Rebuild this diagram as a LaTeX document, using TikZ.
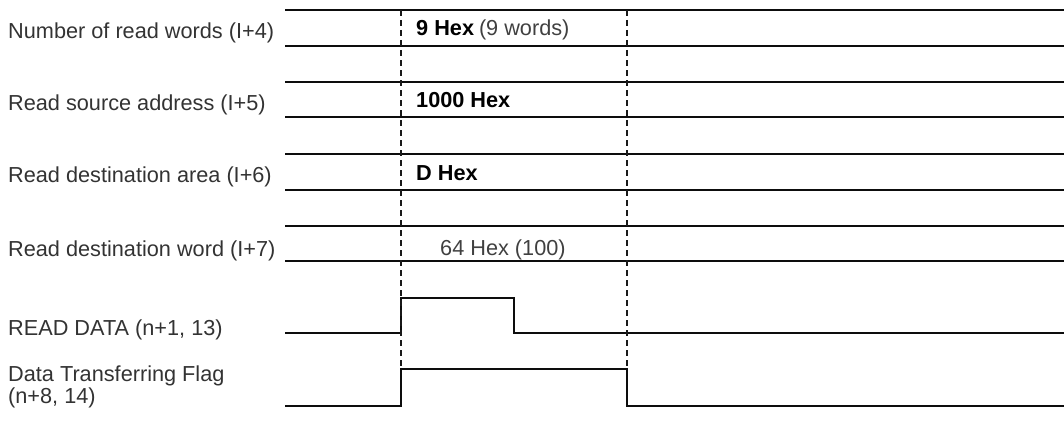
\documentclass[tikz,border=0pt]{standalone}
\usepackage{fontspec}
\setmainfont{Liberation Sans}
\usetikzlibrary{positioning, calc}

\begin{document}
\begin{tikzpicture}[
  x=1pt, y=-1pt,
  % --- labels ---
  sigbase/.style={anchor=base west, inner sep=0pt, align=left,
    font=\fontsize{21.7}{20}\selectfont},
  siglbl/.style={sigbase, text=black!80},
  vallbl/.style={sigbase, text=black, font=\fontsize{21.7}{20}\selectfont\bfseries},
  notelbl/.style={sigbase, text=black!75},
  % --- lines ---
  wave/.style={line width=1.4pt, draw=black!95},
  guide/.style={line width=1.1pt, dash pattern=on 6pt off 4pt, draw=black!90},
]
\useasboundingbox (0,0) rectangle (1064,428);

% ===================== TIME MARKS =====================

\coordinate (t0) at (285,0);
\coordinate (t1) at (401,0);
\coordinate (t2) at (514,0);
\coordinate (t3) at (627,0);
\coordinate (tend) at (1064,0);

% ===================== WORD ROWS =====================

\foreach \rtop/\rbot in {10/46, 82/117, 154/190, 226/261} {
  \draw[wave] (t0 |- 0,\rtop) -- (tend |- 0,\rtop);
  \draw[wave] (t0 |- 0,\rbot) -- (tend |- 0,\rbot);
}

\node[siglbl] (lwords) at (8,38) {Number of read words (I+4)};
\node[siglbl] (lsrc) at (8,110) {Read source address (I+5)};
\node[siglbl] (larea) at (8,182) {Read destination area (I+6)};
\node[siglbl] (lword) at (8,256) {Read destination word (I+7)};

\node[vallbl] (vwords) at (416,36) {9 Hex};
\node[notelbl, right=0.45em of vwords.base east, anchor=base west] (nwords) {(9 words)};
\node[vallbl] (vsrc) at (416,107.5) {1000 Hex};
\node[vallbl] (varea) at (416,180) {D Hex};
\node[notelbl] (vword) at (440,255) {64 Hex (100)};

% ===================== SIGNALS =====================

\node[siglbl] (lread) at (8,335) {READ DATA (n+1, 13)};
\node[siglbl] (lflag) at (8,403) {Data Transferring Flag\\(n+8, 14)};

\coordinate (rdlo) at (0,333);
\coordinate (rdhi) at (0,298);
\coordinate (fllo) at (0,406);
\coordinate (flhi) at (0,369);

\draw[wave] (t0 |- rdlo) -- (t1 |- rdlo) -- (t1 |- rdhi) -- (t2 |- rdhi)
  -- (t2 |- rdlo) -- (tend |- rdlo);
\draw[wave] (t0 |- fllo) -- (t1 |- fllo) -- (t1 |- flhi) -- (t3 |- flhi)
  -- (t3 |- fllo) -- (tend |- fllo);

% timing guides
\draw[guide] (t1 |- 0,10) -- (t1 |- flhi);
\draw[guide] (t3 |- 0,10) -- (t3 |- flhi);

\end{tikzpicture}
\end{document}
